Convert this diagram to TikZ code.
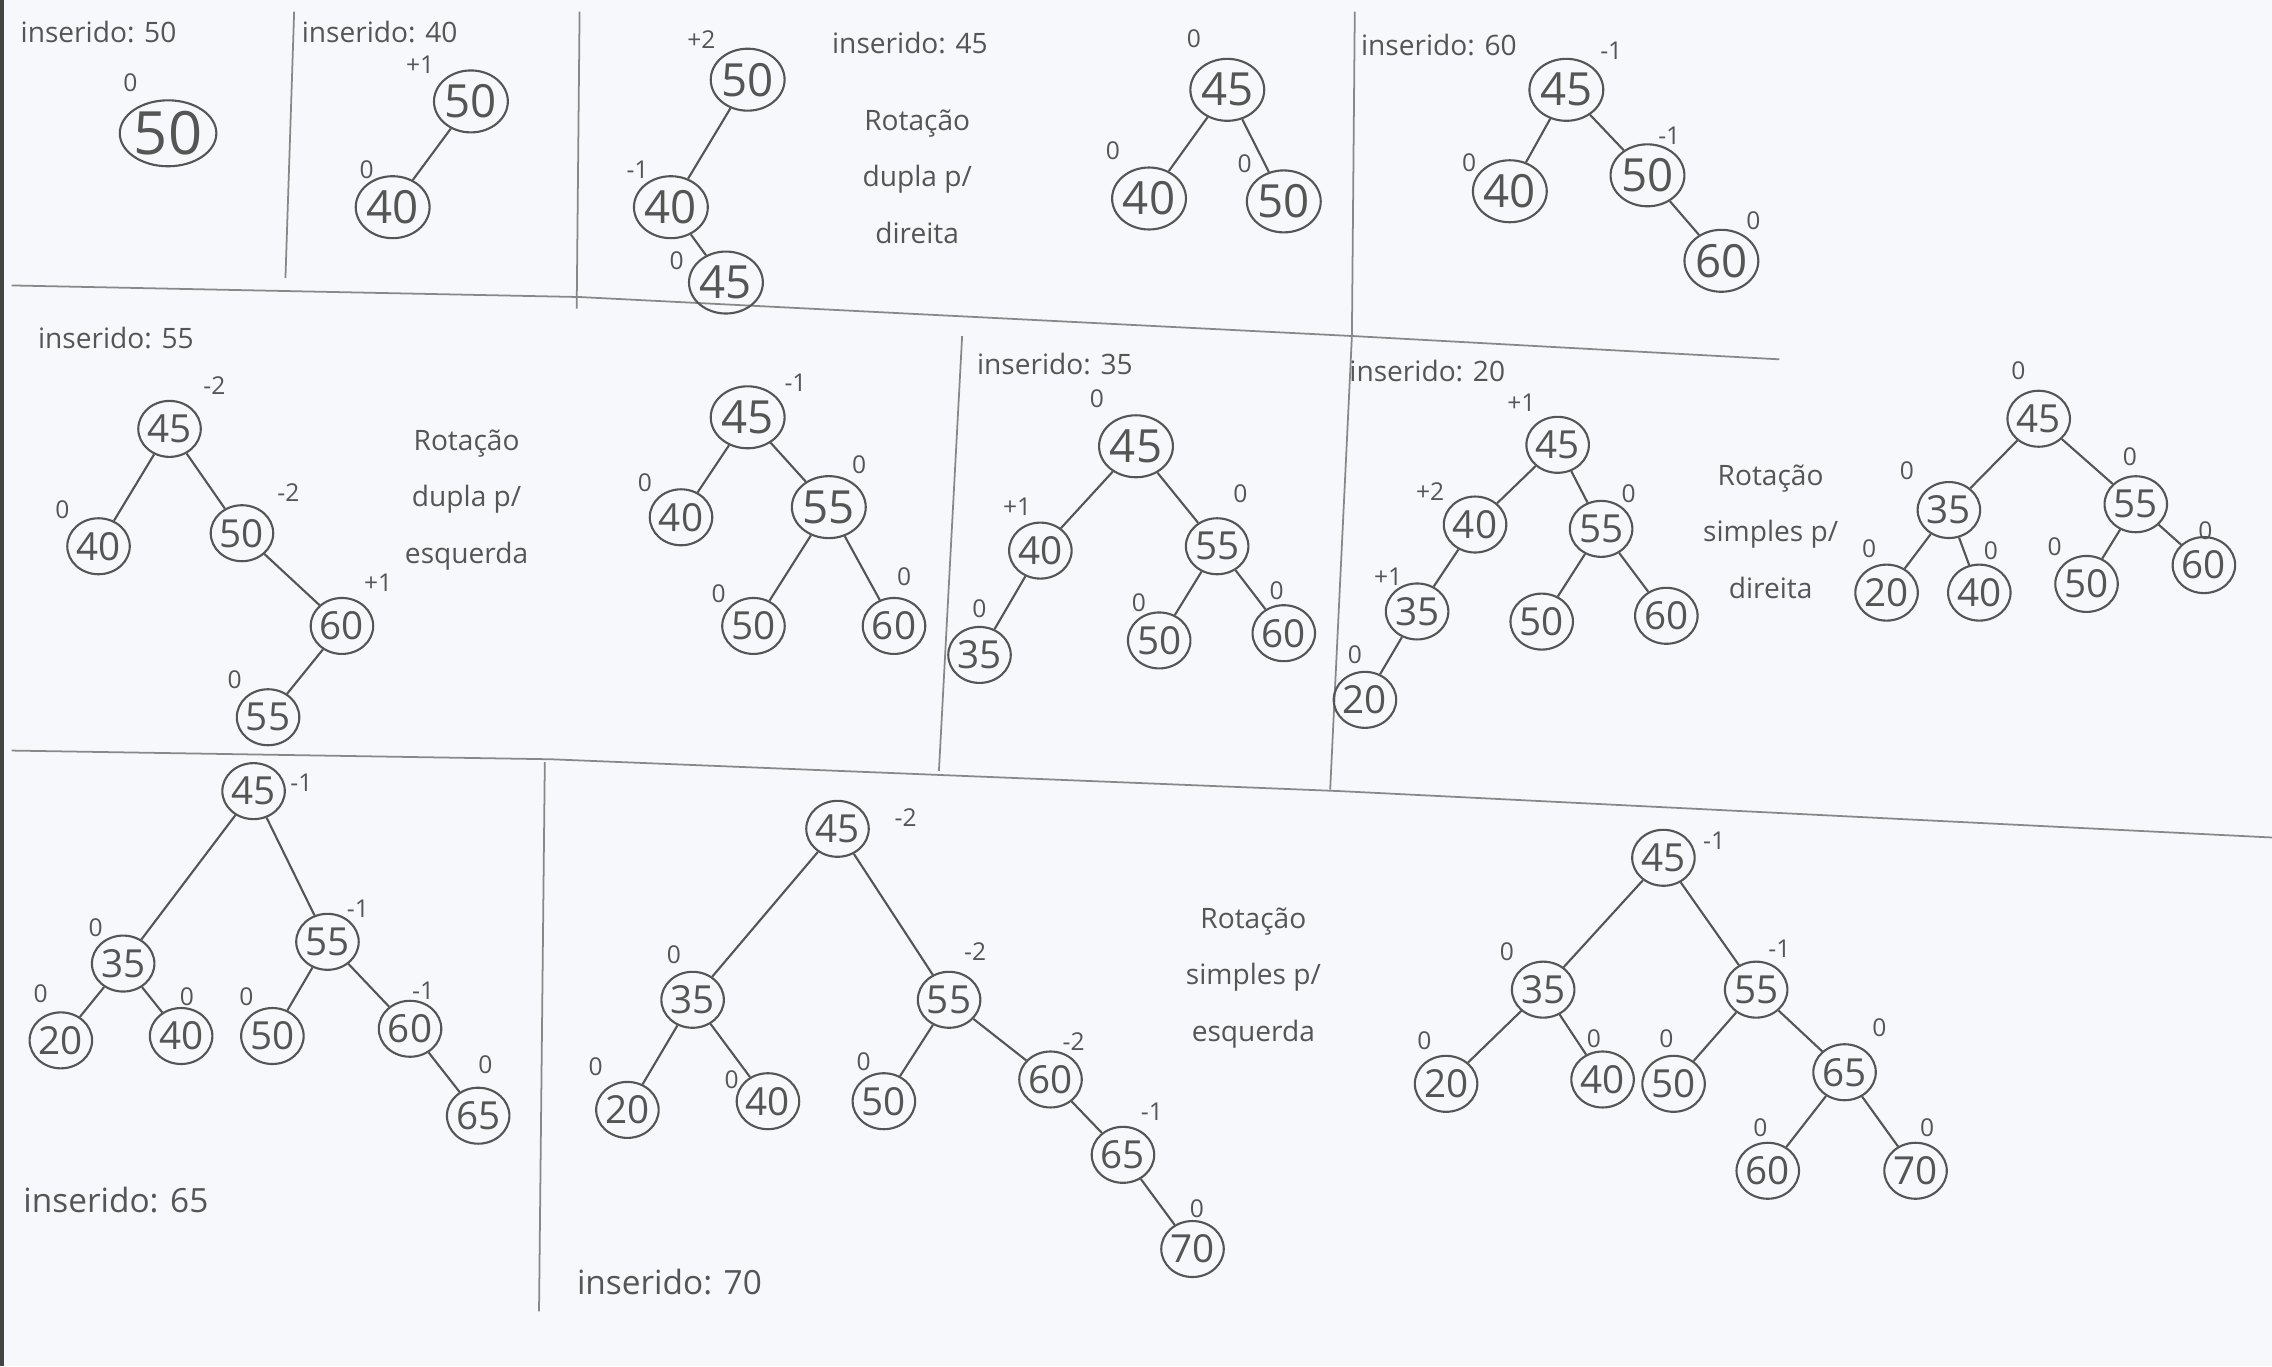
\documentclass[tikz,border=0pt]{standalone}
\usepackage{fontspec}
\setmainfont{Open Sans}
\usetikzlibrary{shapes.geometric}
\definecolor{pencil}{RGB}{85,85,85}
\definecolor{paper}{RGB}{247,248,251}
\begin{document}
\begin{tikzpicture}[x=0.01449cm,y=-0.01449cm,
  nd/.style={ellipse,draw=pencil,line width=0.6pt,minimum width=0.62cm,minimum height=0.56cm,inner sep=0pt,text=pencil,font=\fontsize{11}{11}\selectfont},
  ndb/.style={nd,minimum width=0.7cm,minimum height=0.62cm,font=\fontsize{13}{13}\selectfont},
  ndA/.style={nd,minimum width=0.88cm,minimum height=0.66cm,font=\fontsize{17}{17}\selectfont},
  bf/.style={text=pencil,inner sep=0pt,font=\fontsize{7}{7}\selectfont},
  lbl/.style={text=pencil,inner sep=0pt,font=\fontsize{8}{8}\selectfont},
  lblb/.style={text=pencil,inner sep=0pt,font=\fontsize{9.5}{9.5}\selectfont},
  rot/.style={text=pencil,inner sep=0pt,align=center,font=\fontsize{8}{16}\selectfont},
  edge/.style={draw=pencil,line width=0.6pt},
  sep/.style={draw=pencil!70,line width=0.5pt}]
\useasboundingbox (0,0) rectangle (1568,943);
\fill[paper] (0,0) rectangle (1568,943);
\fill[pencil!80!black] (0,0) rectangle (2.5,943);
% separators
\draw[sep] (8,197) -- (400,205) -- (935,232) -- (1228,248);
\draw[sep] (203,8) -- (197,192);
\draw[sep] (400,8) -- (398,213);
\draw[sep] (935,8) -- (933,232) -- (918,545);
\draw[sep] (664,232) -- (648,532);
\draw[sep] (8,518) -- (380,524) -- (925,546) -- (1568,578);
\draw[sep] (376,526) -- (372,905);
% panel 1
\node[lbl] (t1) at (68,22) {inserido: 50};
\node[bf] (a50b) at (90,57) {0};
\node[ndA] (a50) at (116,92) {50};
% panel 2
\node[lbl] (t2) at (262,22) {inserido: 40};
\node[bf] (b50b) at (290,45) {+1};
\node[ndb] (b50) at (325,70) {50};
\node[bf] (b40b) at (253,117) {0};
\node[ndb] (b40) at (271,143) {40};
\draw[edge] (b50) -- (b40);
% panel 3
\node[bf] (c50b) at (484,27) {+2};
\node[ndb] (c50) at (516,55) {50};
\node[bf] (c40b) at (440,117) {-1};
\node[ndb] (c40) at (463,143) {40};
\node[bf] (c45b) at (467,180) {0};
\node[ndb] (c45) at (501,195) {45};
\draw[edge] (c50) -- (c40);
\draw[edge] (c40) -- (c45);
\node[lbl] (t3) at (628,30) {inserido: 45};
\node[rot] (r3) at (633,122) {Rotação\\dupla p/\\direita};
\node[bf] (d45b) at (824,27) {0};
\node[ndb] (d45) at (847,62) {45};
\node[bf] (d40b) at (768,104) {0};
\node[ndb] (d40) at (793,137) {40};
\node[bf] (d50b) at (859,113) {0};
\node[ndb] (d50) at (886,139) {50};
\draw[edge] (d45) -- (d40);
\draw[edge] (d45) -- (d50);
% panel 4
\node[lbl] (t4) at (993,31) {inserido: 60};
\node[bf] (e45b) at (1112,35) {-1};
\node[ndb] (e45) at (1081,62) {45};
\node[bf] (e40b) at (1014,112) {0};
\node[ndb] (e40) at (1042,132) {40};
\node[bf] (e50b) at (1152,94) {-1};
\node[ndb] (e50) at (1137,121) {50};
\node[bf] (e60b) at (1210,152) {0};
\node[ndb] (e60) at (1188,180) {60};
\draw[edge] (e45) -- (e40);
\draw[edge] (e45) -- (e50);
\draw[edge] (e50) -- (e60);
% panel 5
\node[lbl] (t5) at (80,233) {inserido: 55};
\node[bf] (f45b) at (148,266) {-2};
\node[nd] (f45) at (117,296) {45};
\node[bf] (f40b) at (43,352) {0};
\node[nd] (f40) at (68,377) {40};
\node[bf] (f50b) at (199,340) {-2};
\node[nd] (f50) at (167,368) {50};
\node[bf] (f60b) at (261,402) {+1};
\node[nd] (f60) at (236,432) {60};
\node[bf] (f55b) at (162,469) {0};
\node[nd] (f55) at (185,495) {55};
\draw[edge] (f45) -- (f40);
\draw[edge] (f45) -- (f50);
\draw[edge] (f50) -- (f60);
\draw[edge] (f60) -- (f55);
\node[rot] (r5) at (322,345) {Rotação\\dupla p/\\esquerda};
\node[bf] (g45b) at (549,264) {-1};
\node[ndb] (g45) at (516,288) {45};
\node[bf] (g40b) at (445,333) {0};
\node[nd] (g40) at (470,357) {40};
\node[bf] (g55b) at (593,321) {0};
\node[ndb] (g55) at (572,350) {55};
\node[bf] (g50b) at (496,410) {0};
\node[nd] (g50) at (520,432) {50};
\node[bf] (g60b) at (624,398) {0};
\node[nd] (g60) at (617,432) {60};
\draw[edge] (g45) -- (g40);
\draw[edge] (g45) -- (g55);
\draw[edge] (g55) -- (g50);
\draw[edge] (g55) -- (g60);
% panel 6
\node[lbl] (t6) at (728,251) {inserido: 35};
\node[bf] (h45b) at (757,275) {0};
\node[ndb] (h45) at (784,308) {45};
\node[bf] (h40b) at (702,350) {+1};
\node[nd] (h40) at (718,380) {40};
\node[bf] (h55b) at (856,341) {0};
\node[nd] (h55) at (840,377) {55};
\node[bf] (h35b) at (676,420) {0};
\node[nd] (h35) at (676,452) {35};
\node[bf] (h50b) at (786,416) {0};
\node[nd] (h50) at (800,442) {50};
\node[bf] (h60b) at (881,408) {0};
\node[nd] (h60) at (886,437) {60};
\draw[edge] (h45) -- (h40);
\draw[edge] (h45) -- (h55);
\draw[edge] (h40) -- (h35);
\draw[edge] (h55) -- (h50);
\draw[edge] (h55) -- (h60);
% panel 7
\node[lbl] (t7) at (985,256) {inserido: 20};
\node[bf] (i45b) at (1050,278) {+1};
\node[nd] (i45) at (1075,307) {45};
\node[bf] (i40b) at (987,339) {+2};
\node[nd] (i40) at (1018,362) {40};
\node[bf] (i55b) at (1124,341) {0};
\node[nd] (i55) at (1105,365) {55};
\node[bf] (i35b) at (958,398) {+1};
\node[nd] (i35) at (978,422) {35};
\node[bf] (i20b) at (935,452) {0};
\node[nd] (i20) at (942,483) {20};
\node[nd] (i50) at (1064,429) {50};
\node[nd] (i60) at (1150,425) {60};
\draw[edge] (i45) -- (i40);
\draw[edge] (i45) -- (i55);
\draw[edge] (i40) -- (i35);
\draw[edge] (i35) -- (i20);
\draw[edge] (i55) -- (i50);
\draw[edge] (i55) -- (i60);
\node[rot] (r7) at (1222,367) {Rotação\\simples p/\\direita};
\node[bf] (j45b) at (1393,256) {0};
\node[nd] (j45) at (1407,289) {45};
\node[bf] (j35b) at (1316,325) {0};
\node[nd] (j35) at (1345,352) {35};
\node[bf] (j55b) at (1470,315) {0};
\node[nd] (j55) at (1474,348) {55};
\node[bf] (j20b) at (1290,379) {0};
\node[nd] (j20) at (1302,409) {20};
\node[bf] (j40b) at (1374,380) {0};
\node[nd] (j40) at (1366,409) {40};
\node[bf] (j50b) at (1418,377) {0};
\node[nd] (j50) at (1440,403) {50};
\node[bf] (j60b) at (1522,366) {0};
\node[nd] (j60) at (1521,390) {60};
\draw[edge] (j45) -- (j35);
\draw[edge] (j45) -- (j55);
\draw[edge] (j35) -- (j20);
\draw[edge] (j35) -- (j40);
\draw[edge] (j55) -- (j50);
\draw[edge] (j55) -- (j60);
% panel 8
\node[nd] (k45) at (175,546) {45};
\node[bf] (k45b) at (208,540) {-1};
\node[bf] (k35b) at (66,640) {0};
\node[nd] (k35) at (85,665) {35};
\node[bf] (k55b) at (247,627) {-1};
\node[nd] (k55) at (226,650) {55};
\node[bf] (k20b) at (28,686) {0};
\node[nd] (k20) at (42,718) {20};
\node[bf] (k40b) at (129,688) {0};
\node[nd] (k40) at (125,715) {40};
\node[bf] (k50b) at (170,688) {0};
\node[nd] (k50) at (188,715) {50};
\node[bf] (k60b) at (292,684) {-1};
\node[nd] (k60) at (283,710) {60};
\node[bf] (k65b) at (335,735) {0};
\node[nd] (k65) at (330,770) {65};
\draw[edge] (k45) -- (k35);
\draw[edge] (k45) -- (k55);
\draw[edge] (k35) -- (k20);
\draw[edge] (k35) -- (k40);
\draw[edge] (k55) -- (k50);
\draw[edge] (k55) -- (k60);
\draw[edge] (k60) -- (k65);
\node[lblb] (t8) at (80,828) {inserido: 65};
% panel 9
\node[nd] (l45) at (578,572) {45};
\node[bf] (l45b) at (625,564) {-2};
\node[bf] (l35b) at (465,659) {0};
\node[nd] (l35) at (478,690) {35};
\node[bf] (l55b) at (673,657) {-2};
\node[nd] (l55) at (655,690) {55};
\node[bf] (l20b) at (411,736) {0};
\node[nd] (l20) at (433,766) {20};
\node[bf] (l40b) at (505,745) {0};
\node[nd] (l40) at (530,760) {40};
\node[bf] (l50b) at (596,733) {0};
\node[nd] (l50) at (610,760) {50};
\node[bf] (l60b) at (741,719) {-2};
\node[nd] (l60) at (725,745) {60};
\node[bf] (l65b) at (795,767) {-1};
\node[nd] (l65) at (775,797) {65};
\node[bf] (l70b) at (826,834) {0};
\node[nd] (l70) at (823,862) {70};
\draw[edge] (l45) -- (l35);
\draw[edge] (l45) -- (l55);
\draw[edge] (l35) -- (l20);
\draw[edge] (l35) -- (l40);
\draw[edge] (l55) -- (l50);
\draw[edge] (l55) -- (l60);
\draw[edge] (l60) -- (l65);
\draw[edge] (l65) -- (l70);
\node[lblb] (t9) at (462,885) {inserido: 70};
\node[rot] (r9) at (865,675) {Rotação\\simples p/\\esquerda};
% panel 10
\node[nd] (m45) at (1148,592) {45};
\node[bf] (m45b) at (1183,580) {-1};
\node[bf] (m35b) at (1040,657) {0};
\node[nd] (m35) at (1065,683) {35};
\node[bf] (m55b) at (1228,655) {-1};
\node[nd] (m55) at (1212,683) {55};
\node[bf] (m20b) at (983,718) {0};
\node[nd] (m20) at (998,748) {20};
\node[bf] (m40b) at (1100,717) {0};
\node[nd] (m40) at (1106,745) {40};
\node[bf] (m50b) at (1150,717) {0};
\node[nd] (m50) at (1155,748) {50};
\node[bf] (m65b) at (1297,709) {0};
\node[nd] (m65) at (1273,740) {65};
\node[bf] (m60b) at (1215,778) {0};
\node[nd] (m60) at (1220,808) {60};
\node[bf] (m70b) at (1330,778) {0};
\node[nd] (m70) at (1322,808) {70};
\draw[edge] (m45) -- (m35);
\draw[edge] (m45) -- (m55);
\draw[edge] (m35) -- (m20);
\draw[edge] (m35) -- (m40);
\draw[edge] (m55) -- (m50);
\draw[edge] (m55) -- (m65);
\draw[edge] (m65) -- (m60);
\draw[edge] (m65) -- (m70);
\end{tikzpicture}
\end{document}
